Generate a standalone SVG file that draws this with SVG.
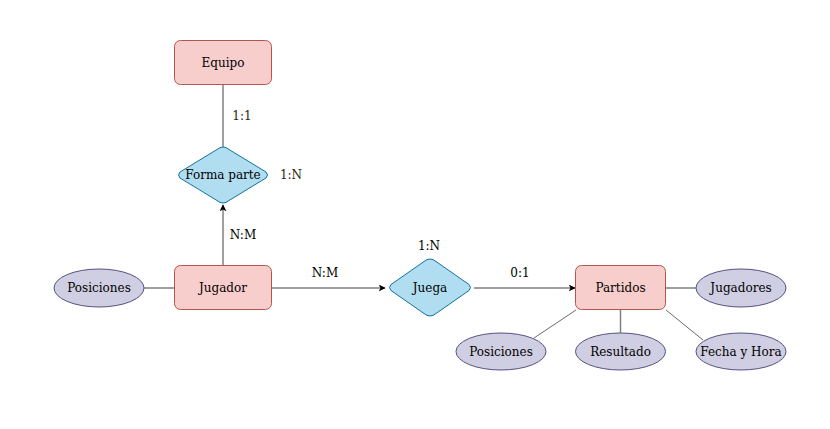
<svg xmlns="http://www.w3.org/2000/svg" width="830" height="429" viewBox="0 0 830 429">
<style>
.ent{fill:#f8cecc;stroke:#b85450;stroke-width:1}
.rel{fill:#b1ddf0;stroke:#10739e;stroke-width:1}
.att{fill:#d0cee2;stroke:#56517e;stroke-width:1}
text{font-family:"DejaVu Serif","Liberation Serif",serif;font-size:12px;fill:#000;text-anchor:middle;dominant-baseline:central}
.lbl{fill:#2e2410}
.ln{stroke:#808080;stroke-width:1.5;fill:none}
.thin{stroke:#444;stroke-width:0.8;fill:none}
</style>
<defs>
<marker id="arr" viewBox="0 0 10 10" refX="9" refY="5" markerWidth="7" markerHeight="7" markerUnits="userSpaceOnUse" orient="auto">
<path d="M0,0 L10,5 L0,10 L2.5,5 Z" fill="#000"/>
</marker>
</defs>
<rect width="830" height="429" fill="#fff"/>
<g id="connectors">
<line class="ln" x1="223" y1="85" x2="223" y2="147"/>
<line class="ln" x1="223" y1="265" x2="223" y2="205" marker-end="url(#arr)"/>
<line class="ln" x1="144" y1="288" x2="174" y2="288"/>
<line class="ln" x1="272" y1="288" x2="385" y2="288" marker-end="url(#arr)"/>
<line class="ln" x1="474" y1="288" x2="575" y2="288" marker-end="url(#arr)"/>
<line class="ln" x1="666" y1="288" x2="696" y2="288"/>
<line class="ln" x1="620.5" y1="310" x2="620.5" y2="333"/>
<line class="thin" x1="576" y1="310" x2="534" y2="338"/>
<line class="thin" x1="666" y1="310" x2="703" y2="340"/>
<text class="lbl" x="242" y="116">1:1</text>
<text class="lbl" x="291" y="175">1:N</text>
<text x="243" y="235">N:M</text>
<text x="325" y="273">N:M</text>
<text x="429" y="246">1:N</text>
<text x="520" y="273">0:1</text>
</g>
<g id="equipo">
<rect class="ent" x="174.5" y="40.5" width="97" height="44" rx="6"/>
<text x="223" y="62.5">Equipo</text>
</g>
<g id="forma-parte">
<path class="rel" d="M223,147 Q226,147 229,149.5 L266,172 Q269,175 266,178 L229,200.5 Q226,203 223,203 Q220,203 217,200.5 L180,178 Q177,175 180,172 L217,149.5 Q220,147 223,147 Z"/>
<text x="223" y="175">Forma parte</text>
</g>
<g id="jugador">
<rect class="ent" x="174.5" y="265.5" width="97" height="44" rx="6"/>
<text x="223" y="287.5">Jugador</text>
</g>
<g id="posiciones-jugador">
<ellipse class="att" cx="99" cy="288" rx="45" ry="19"/>
<text x="99" y="288">Posiciones</text>
</g>
<g id="juega">
<path class="rel" d="M430,259 Q433,259 436,261.5 L469,284.5 Q472,287.5 469,290.5 L436,313.5 Q433,316 430,316 Q427,316 424,313.5 L391,290.5 Q388,287.5 391,284.5 L424,261.5 Q427,259 430,259 Z"/>
<text x="430" y="287.5">Juega</text>
</g>
<g id="partidos">
<rect class="ent" x="575.5" y="265.5" width="90" height="44" rx="6"/>
<text x="620.5" y="287.5">Partidos</text>
</g>
<g id="jugadores">
<ellipse class="att" cx="741" cy="288" rx="45" ry="19"/>
<text x="741" y="288">Jugadores</text>
</g>
<g id="posiciones-partido">
<ellipse class="att" cx="501" cy="351.5" rx="45" ry="18.5"/>
<text x="501" y="351.5">Posiciones</text>
</g>
<g id="resultado">
<ellipse class="att" cx="620.5" cy="351.5" rx="45" ry="18.5"/>
<text x="620.5" y="351.5">Resultado</text>
</g>
<g id="fecha-hora">
<ellipse class="att" cx="741" cy="351.5" rx="45" ry="18.5"/>
<text x="741" y="351.5">Fecha y Hora</text>
</g>
</svg>
